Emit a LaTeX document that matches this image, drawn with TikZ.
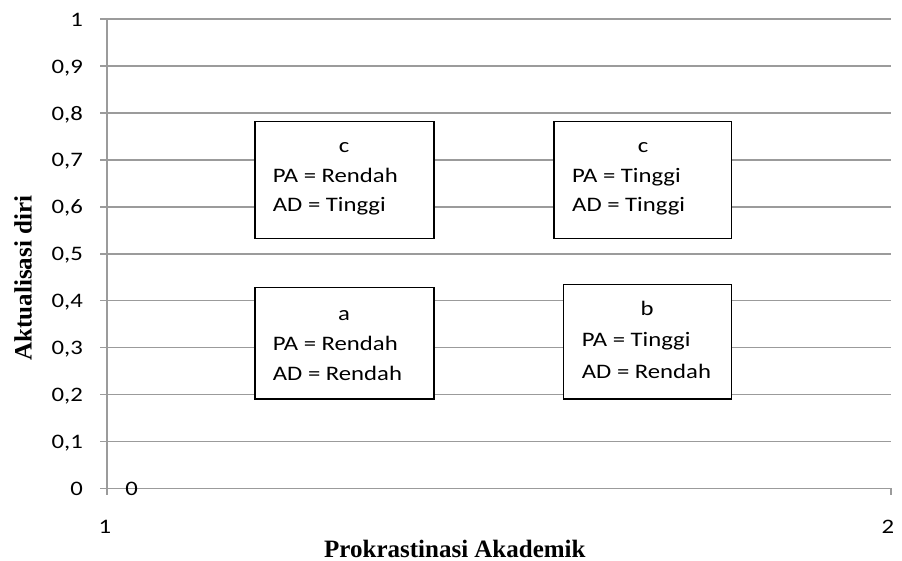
\documentclass[tikz,border=0pt]{standalone}
\usepackage{fontspec}
\setmainfont{Carlito}[FakeStretch=1.2]
\newfontfamily\titlefont{Liberation Serif}
\definecolor{gridgray}{RGB}{155,155,155}
\begin{document}
\begin{tikzpicture}[x=1pt,y=-1pt,
  grid/.style={draw=gridgray,line width=1.6pt},
  lbl/.style={inner sep=0pt,font=\fontsize{20.6}{24}\selectfont},
  ttl/.style={inner sep=0pt,font=\titlefont\bfseries\fontsize{25}{30}\selectfont},
  qbox/.style={draw=black,line width=1.2pt,fill=white,inner sep=0pt}]
\useasboundingbox (0,0) rectangle (902,561);
% grid lines and y labels
\foreach \v/\t in {0/0,1/{0,1},2/{0,2},3/{0,3},4/{0,4},5/{0,5},6/{0,6},7/{0,7},8/{0,8},9/{0,9},10/1}{
  \pgfmathsetmacro{\yy}{488.3-46.9*\v}
  \draw[grid] (100,\yy) -- (891,\yy);
  \node[lbl,anchor=base east] (yl\v) at (83,\yy+7) {\t};
}
% axis
\coordinate (ytop) at (106.7,19.3);
\coordinate (ybot) at (106.7,495);
\draw[grid] (ytop) -- (ybot);
\coordinate (xrt) at (891,488.3);
\coordinate (xrtb) at (891,495);
\draw[grid] (xrt) -- (xrtb);
% x labels
\node[lbl,anchor=base] (x1) at (105,533) {1};
\node[lbl,anchor=base] (x2) at (888,533) {2};
\node[lbl,anchor=base] (zero) at (131.7,495.5) {0};
% titles
\node[ttl,rotate=90] (ytitle) at (23,278) {Aktualisasi diri};
\node[ttl,anchor=base west] (xtitle) at (324,557) {Prokrastinasi Akademik};
% boxes
\node[qbox,minimum width=179pt,minimum height=116.6pt] (bc1) at (344.5,180) {};
\node[lbl,anchor=base] (bc1t) at (344,153) {c};
\node[lbl,anchor=base west] (bc1p) at (272.7,183) {PA = Rendah};
\node[lbl,anchor=base west] (bc1a) at (272.7,211.7) {AD = Tinggi};

\node[qbox,minimum width=177.7pt,minimum height=116.6pt] (bc2) at (642.9,180) {};
\node[lbl,anchor=base] (bc2t) at (643,153) {c};
\node[lbl,anchor=base west] (bc2p) at (572,183) {PA = Tinggi};
\node[lbl,anchor=base west] (bc2a) at (572,211.7) {AD = Tinggi};

\node[qbox,minimum width=179pt,minimum height=111.7pt] (ba) at (344.5,343.2) {};
\node[lbl,anchor=base] (bat) at (344,320) {a};
\node[lbl,anchor=base west] (bap) at (272.7,350) {PA = Rendah};
\node[lbl,anchor=base west] (baa) at (272.7,380) {AD = Rendah};

\node[qbox,minimum width=168.4pt,minimum height=114.7pt] (bb) at (647.5,341.7) {};
\node[lbl,anchor=base] (bbt) at (647,316) {b};
\node[lbl,anchor=base west] (bbp) at (581.7,346) {PA = Tinggi};
\node[lbl,anchor=base west] (bba) at (581.7,378) {AD = Rendah};
\end{tikzpicture}
\end{document}
